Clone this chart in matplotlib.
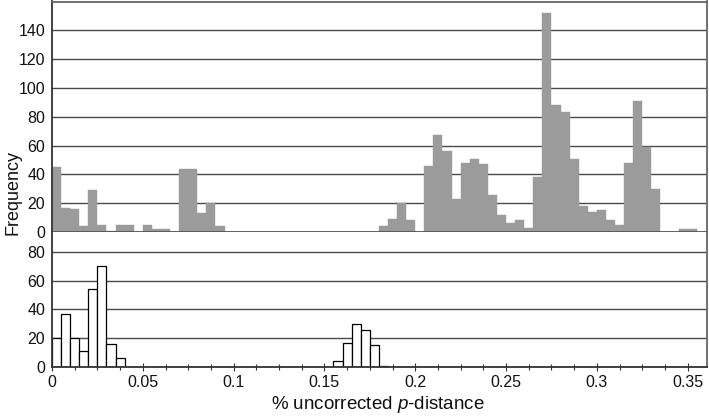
import numpy as np
import matplotlib
matplotlib.use("Agg")
import matplotlib.pyplot as plt
from matplotlib.ticker import MultipleLocator

plt.rcParams['font.family'] = ['Liberation Sans', 'DejaVu Sans']
plt.rcParams['mathtext.fontset'] = 'custom'
plt.rcParams['mathtext.it'] = 'Liberation Sans:italic'
plt.rcParams['mathtext.rm'] = 'Liberation Sans'

# ---- data ----
bin_width = 0.005
top_counts = [45, 17, 16, 4, 29, 5, 1, 5, 5, 0, 5, 2, 2, 0, 44, 44, 13, 20, 4, 0,
              0, 0, 0, 0, 0, 0, 0, 0, 0, 0, 0, 0, 0, 0, 0, 0, 4, 9, 20, 8,
              0, 46, 67, 56, 23, 48, 51, 47, 26, 12, 6, 8, 3, 38, 152, 88, 83, 51, 18, 14,
              15, 8, 5, 48, 91, 59, 30, 0, 0, 2, 2, 0]
bottom_counts = [20, 37, 20, 11, 54, 70, 16, 6, 0, 0, 0, 0, 0, 0, 0, 0, 0, 0, 0, 0,
                 0, 0, 0, 0, 0, 0, 0, 0, 0, 0, 0, 4, 17, 30, 26, 15, 1, 0, 0, 0,
                 0, 0, 0, 0, 0, 0, 0, 0, 0, 0, 0, 0, 0, 0, 0, 0, 0, 0, 0, 0,
                 0, 0, 0, 0, 0, 0, 0, 0, 0, 0, 0, 0]
bin_starts = np.arange(len(top_counts)) * bin_width
x_ticks = [0, 0.05, 0.1, 0.15, 0.2, 0.25, 0.3, 0.35]
x_ticklabels = ['0', '0.05', '0.1', '0.15', '0.2', '0.25', '0.3', '0.35']
top_yticks = [0, 20, 40, 60, 80, 100, 120, 140]
bottom_yticks = [0, 20, 40, 60, 80]

fig = plt.figure(figsize=(7.09, 4.16), dpi=100)
left, right = 52 / 709, 706.7 / 709
top, bottom = 1 - 1.5 / 416, 1 - 367 / 416
gs = fig.add_gridspec(2, 1, height_ratios=[160, 93.7], hspace=0,
                      left=left, right=right, top=top, bottom=bottom)
ax1 = fig.add_subplot(gs[0])
ax2 = fig.add_subplot(gs[1], sharex=ax1)

frame_col = '#666666'
grid_col = '#4a4a4a'

# top panel
for y in top_yticks[1:]:
    ax1.axhline(y, color=grid_col, lw=1.0, zorder=0)
ax1.bar(bin_starts, top_counts, width=bin_width, align='edge',
        color='#9b9b9b', edgecolor='#9b9b9b', linewidth=0.3, zorder=2)
ax1.set_ylim(0, 160)
ax1.set_yticks(top_yticks)

# bottom panel
for y in bottom_yticks[1:]:
    ax2.axhline(y, color=grid_col, lw=1.0, zorder=0)
ax2.bar(bin_starts, bottom_counts, width=bin_width, align='edge',
        color='white', edgecolor='black', linewidth=0.9, zorder=2)
ax2.set_ylim(0, 93.7)
ax2.set_yticks(bottom_yticks)

ax2.set_xlim(0, 0.3605)
ax2.set_xticks(x_ticks)
ax2.set_xticklabels(x_ticklabels)
ax2.xaxis.set_minor_locator(MultipleLocator(0.0125))

for ax in (ax1, ax2):
    for s in ax.spines.values():
        s.set_color(frame_col)
        s.set_linewidth(1.3)
    ax.spines['left'].set_color('#333333')
    ax.tick_params(axis='y', length=0, pad=5, labelsize=11.5, colors='#111111')
ax1.spines['bottom'].set_color('#555555')
ax1.spines['bottom'].set_linewidth(2.0)
ax1.spines['bottom'].set_capstyle('butt')
ax2.spines['top'].set_visible(False)
ax2.spines['bottom'].set_color('#333333')
ax1.tick_params(axis='x', which='both', bottom=False, labelbottom=False)
ax2.tick_params(axis='x', which='major', direction='inout', length=6, width=0.8,
                labelsize=11.5, pad=3, colors='#333333', labelcolor='#111111')
ax2.tick_params(axis='x', which='minor', direction='inout', length=4, width=0.8,
                colors='#333333')

fig.text(0.018, 0.538, 'Frequency', rotation=90, ha='center', va='center',
         fontsize=13, color='#111111')
fig.text(0.533, 0.027, '% uncorrected $\\it{p}$-distance', ha='center', va='center',
         fontsize=13.5, color='#111111')

fig.savefig('out.png', dpi=100)
